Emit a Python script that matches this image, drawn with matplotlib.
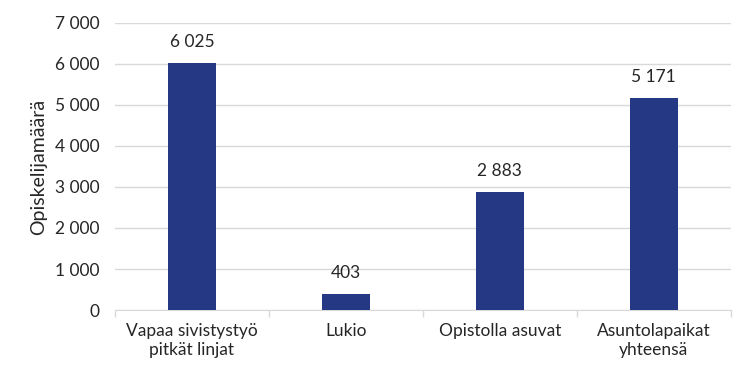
import matplotlib
matplotlib.use("Agg")
import matplotlib.pyplot as plt
from matplotlib.ticker import FuncFormatter

categories = ["Vapaa sivistystyö\npitkät linjat", "Lukio", "Opistolla asuvat", "Asuntolapaikat\nyhteensä"]
values = [6025, 403, 2883, 5171]
y_ticks = [0, 1000, 2000, 3000, 4000, 5000, 6000, 7000]

plt.rcParams["font.family"] = ["Lato", "DejaVu Sans"]
text_color = "#262626"
fs = 12.5


def space_thousands(v, pos=None):
    return f"{int(v):,}".replace(",", " ")


fig = plt.figure(figsize=(7.5, 3.8), dpi=100)
ax = fig.add_axes([0.1533, 0.184, 0.821, 0.756])

x = list(range(len(categories)))
ax.bar(x, values, width=0.31, color="#253883", zorder=3)
for xi, v in zip(x, values):
    ax.annotate(space_thousands(v), (xi, v), xytext=(0, 9), textcoords="offset points",
                ha="center", va="bottom", color=text_color, fontsize=fs)

ax.set_xlim(-0.5, len(categories) - 0.5)
ax.set_ylim(0, 7000)
ax.set_yticks(y_ticks)
ax.yaxis.set_major_formatter(FuncFormatter(space_thousands))
ax.yaxis.grid(True, color="#d9d9d9", linewidth=1, zorder=0)
ax.tick_params(axis="y", length=0, pad=11, colors=text_color, labelsize=fs)

# category boundaries as major ticks, labels on minor ticks
ax.set_xticks([i - 0.5 for i in range(len(categories) + 1)])
ax.set_xticklabels([])
ax.set_xticks(x, minor=True)
ax.set_xticklabels(categories, minor=True, linespacing=1.3)
ax.tick_params(axis="x", which="major", length=5, color="#d9d9d9", width=1)
ax.tick_params(axis="x", which="minor", length=0, pad=9, colors=text_color, labelsize=fs)

for side in ["top", "right", "left"]:
    ax.spines[side].set_visible(False)
ax.spines["bottom"].set_color("#d9d9d9")

ax.set_ylabel("Opiskelijamäärä", color=text_color, fontsize=14, labelpad=6)

fig.savefig("out.png", dpi=100)
